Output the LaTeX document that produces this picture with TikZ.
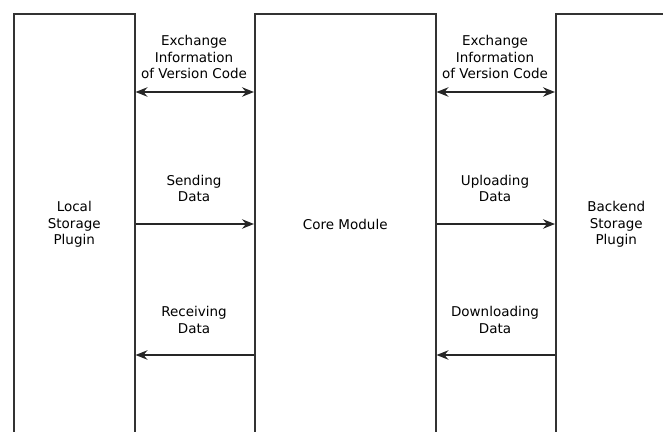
\documentclass[tikz,border=0pt]{standalone}
\usepackage{fontspec}
\setmainfont{DejaVu Sans}
\usetikzlibrary{arrows.meta}
\begin{document}
\begin{tikzpicture}[x=1pt,y=-1pt,
  lane/.style={draw=black!80, line width=1.5pt, fill=none, anchor=north west,
    minimum width=121pt, minimum height=422pt, inner sep=0pt, align=center,
    font=\fontsize{13.5}{16.5}\selectfont},
  core/.style={lane, minimum width=181pt},
  tip/.tip={Stealth[length=12pt,width=9.5pt,inset=4pt]},
  flow/.style={draw=black!85, line width=1.3pt, -tip, >={tip}},
  both/.style={flow, tip-tip},
  lbl/.style={align=center, inner sep=0pt, font=\fontsize{13.5}{16.5}\selectfont}]
\useasboundingbox (0,0) rectangle (663,431);
\clip (0,0) rectangle (663,431);

% the three modules
\node[lane] (local) at (13,13) {Local\\Storage\\Plugin};
\node[core] (core) at (254,13) {Core Module};
\node[lane] (backend) at (555,13) {Backend\\Storage\\Plugin};

% version code exchange
\draw[both] (local.east |- 0,92) -- (core.west |- 0,92);
\draw[both] (core.east |- 0,92) -- (backend.west |- 0,92);
\node[lbl] (xl) at (194,57) {Exchange\\Information\\of Version Code};
\node[lbl] (xr) at (495,57) {Exchange\\Information\\of Version Code};

% data sent towards the backend
\draw[flow] (local.east |- 0,224) -- (core.west |- 0,224);
\draw[flow] (core.east |- 0,224) -- (backend.west |- 0,224);
\node[lbl] (sl) at (194,188.5) {Sending\\Data};
\node[lbl] (sr) at (495,188.5) {Uploading\\Data};

% data returned towards the local plugin
\draw[flow] (core.west |- 0,355) -- (local.east |- 0,355);
\draw[flow] (backend.west |- 0,355) -- (core.east |- 0,355);
\node[lbl] (rl) at (194,320) {Receiving\\Data};
\node[lbl] (rr) at (495,320) {Downloading\\Data};
\end{tikzpicture}
\end{document}
